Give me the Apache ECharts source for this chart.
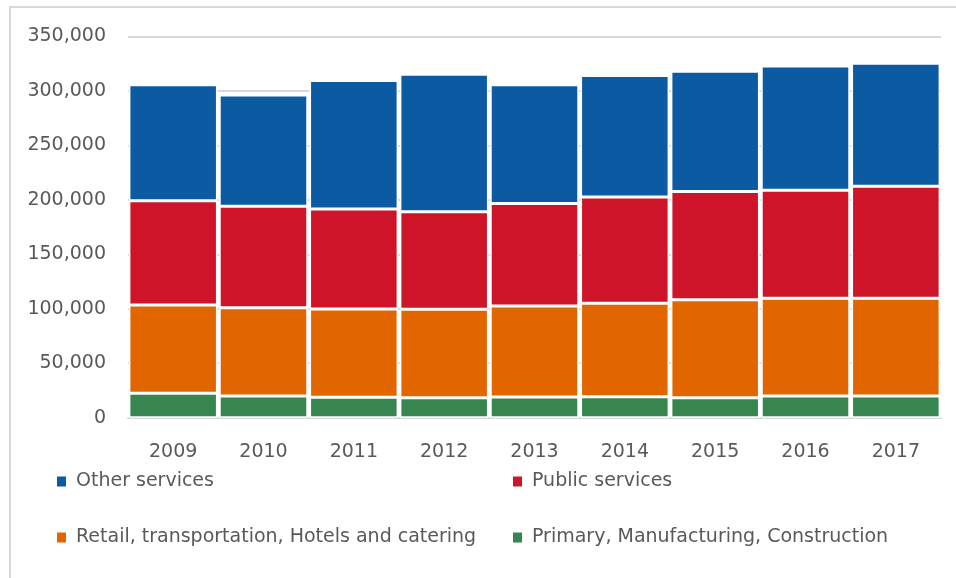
<!DOCTYPE html>
<html>
<head>
<meta charset="utf-8">
<script src="https://cdn.jsdelivr.net/npm/echarts@6/dist/echarts.min.js"></script>
<style>
  html, body { margin: 0; padding: 0; background: #fff; }
  #chart { width: 956px; height: 578px; }
</style>
</head>
<body>
<div id="chart"></div>
<script>
// Employment by sector, 2009-2017 (stacked)
const years = ['2009', '2010', '2011', '2012', '2013', '2014', '2015', '2016', '2017'];
const primary = [22400, 19900, 18700, 18400, 19000, 19300, 18400, 19900, 19900];
const retail = [81100, 81100, 81100, 81100, 83600, 85700, 90000, 89800, 89800];
const publicServices = [95600, 93200, 91900, 89500, 94000, 97700, 99200, 99200, 102800];
const otherServices = [106500, 102000, 117900, 126400, 109000, 111500, 110600, 113900, 113000];
const yTicks = [0, 50000, 100000, 150000, 200000, 250000, 300000, 350000];

const names = {
  other: 'Other services',
  pub: 'Public services',
  retail: 'Retail, transportation, Hotels and catering',
  primary: 'Primary, Manufacturing, Construction'
};
const colors = {
  other: '#0B5AA2',
  pub: '#CD1429',
  retail: '#E26600',
  primary: '#37854F'
};

const FONT = 'DejaVu Sans';
const TEXT = '#595959';

function bar(name, data, color) {
  return {
    name: name,
    type: 'bar',
    stack: 'total',
    data: data,
    barCategoryGap: '2%',
    itemStyle: { color: color, borderColor: '#ffffff', borderWidth: 1.5 },
    emphasis: { disabled: true }
  };
}

function legendItem(name, left, top) {
  return {
    data: [name],
    left: left,
    top: top,
    padding: 0,
    icon: 'rect',
    itemWidth: 9,
    itemHeight: 10,
    itemStyle: { borderWidth: 0 },
    selectedMode: false,
    textStyle: { fontFamily: FONT, fontSize: 19, color: TEXT, padding: [0, 0, 0, 5] }
  };
}

const chart = echarts.init(document.getElementById('chart'), null, { renderer: 'canvas' });
chart.setOption({
  animation: false,
  backgroundColor: '#ffffff',
  graphic: [{
    type: 'rect',
    shape: { x: 10, y: 7, width: 980, height: 620 },
    style: { fill: 'none', stroke: '#d9d9d9', lineWidth: 2 },
    silent: true,
    z: -10
  }],
  grid: { left: 128, right: 15, top: 36.5, bottom: 160.3 },
  xAxis: {
    type: 'category',
    data: years,
    axisLine: { show: true, lineStyle: { color: '#d9d9d9', width: 2 } },
    axisTick: { show: false },
    axisLabel: { fontFamily: FONT, fontSize: 19, color: TEXT, margin: 25 }
  },
  yAxis: {
    type: 'value',
    min: yTicks[0],
    max: yTicks[yTicks.length - 1],
    interval: yTicks[1] - yTicks[0],
    axisLine: { show: false },
    axisTick: { show: false },
    splitLine: { lineStyle: { color: '#d9d9d9', width: 2 } },
    axisLabel: {
      fontFamily: FONT, fontSize: 19, color: TEXT, margin: 22,
      formatter: v => v.toLocaleString('en-US')
    }
  },
  legend: [
    legendItem(names.other, 57, 472),
    legendItem(names.pub, 513, 472),
    legendItem(names.retail, 57, 528),
    legendItem(names.primary, 513, 528)
  ],
  series: [
    bar(names.primary, primary, colors.primary),
    bar(names.retail, retail, colors.retail),
    bar(names.pub, publicServices, colors.pub),
    bar(names.other, otherServices, colors.other)
  ]
});
</script>
</body>
</html>
